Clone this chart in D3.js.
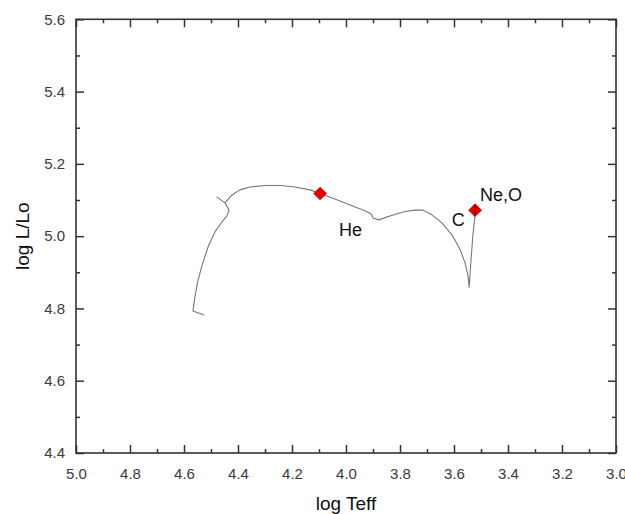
<!DOCTYPE html>
<html>
<head>
<meta charset="utf-8">
<script src="https://cdn.jsdelivr.net/npm/d3@7"></script>
<style>
  html, body { margin: 0; padding: 0; background: #fff; }
  svg { display: block; font-family: "Liberation Sans", Arial, sans-serif; }
</style>
</head>
<body>
<svg id="chart" width="625" height="514"></svg>
<script>
// Evolutionary track in the HR diagram: log Teff vs log L/Lo
const trackLogT = [4.526, 4.567, 4.560, 4.550, 4.533, 4.511, 4.485, 4.459, 4.441, 4.433,
  4.448, 4.478, 4.448, 4.422, 4.393, 4.356, 4.300, 4.244, 4.189, 4.133,
  4.096, 4.041, 3.985, 3.930, 3.907, 3.900, 3.878, 3.837, 3.782, 3.744,
  3.715, 3.682, 3.644, 3.607, 3.578, 3.559, 3.548, 3.544, 3.537, 3.530,
  3.522, 3.520];
const trackLogL = [4.782, 4.793, 4.830, 4.872, 4.920, 4.970, 5.012, 5.040, 5.056, 5.072,
  5.092, 5.108, 5.092, 5.114, 5.128, 5.136, 5.140, 5.140, 5.136, 5.128,
  5.118, 5.103, 5.086, 5.070, 5.061, 5.050, 5.045, 5.056, 5.068, 5.072,
  5.072, 5.059, 5.036, 5.003, 4.964, 4.926, 4.890, 4.859, 4.934, 5.003,
  5.059, 5.086];

// Burning-stage markers
const markerLogT = [4.096, 3.522];
const markerLogL = [5.118, 5.072];

// Stage labels
const labelText = ["He", "C", "Ne,O"];
const labelLogT = [3.983, 3.584, 3.504];
const labelLogL = [5.017, 5.045, 5.114];
const labelAnchor = ["middle", "middle", "start"];

const xTicks = [5.0, 4.8, 4.6, 4.4, 4.2, 4.0, 3.8, 3.6, 3.4, 3.2, 3.0];
const yTicks = [4.4, 4.6, 4.8, 5.0, 5.2, 5.4, 5.6];
const xMinor = [4.9, 4.7, 4.5, 4.3, 4.1, 3.9, 3.7, 3.5, 3.3, 3.1];
const yMinor = [4.5, 4.7, 4.9, 5.1, 5.3, 5.5];

const svg = d3.select("#chart");
const margin = { left: 76, top: 19.3, right: 9, bottom: 61 };
const W = 625, H = 514;
const iw = W - margin.left - margin.right;
const ih = H - margin.top - margin.bottom;

const x = d3.scaleLinear().domain([5.0, 3.0]).range([0, iw]);
const y = d3.scaleLinear().domain([4.4, 5.6]).range([ih, 0]);

const g = svg.append("g").attr("transform", `translate(${margin.left},${margin.top})`);

const axisColor = "#333";
const fmt = d3.format(".1f");

function styleAxis(sel, showLabels) {
  sel.select(".domain").remove();
  sel.selectAll(".tick line").attr("stroke", axisColor).attr("stroke-width", 1.5);
  sel.selectAll(".tick text")
    .attr("fill", "#3a3a3a")
    .style("font-size", "15px");
  if (!showLabels) sel.selectAll(".tick text").remove();
}

// Bottom axis (major + minor, inward ticks)
g.append("g").attr("transform", `translate(0,${ih})`)
  .call(d3.axisBottom(x).tickValues(xTicks).tickFormat(fmt).tickSizeInner(-8).tickPadding(15))
  .call(s => styleAxis(s, true));
g.append("g").attr("transform", `translate(0,${ih})`)
  .call(d3.axisBottom(x).tickValues(xMinor).tickSizeInner(-4))
  .call(s => styleAxis(s, false));

// Top axis
g.append("g")
  .call(d3.axisTop(x).tickValues(xTicks).tickSizeInner(-8))
  .call(s => styleAxis(s, false));
g.append("g")
  .call(d3.axisTop(x).tickValues(xMinor).tickSizeInner(-4))
  .call(s => styleAxis(s, false));

// Left axis
g.append("g")
  .call(d3.axisLeft(y).tickValues(yTicks).tickFormat(fmt).tickSizeInner(-8).tickPadding(11))
  .call(s => styleAxis(s, true));
g.append("g")
  .call(d3.axisLeft(y).tickValues(yMinor).tickSizeInner(-4))
  .call(s => styleAxis(s, false));

// Right axis
g.append("g").attr("transform", `translate(${iw},0)`)
  .call(d3.axisRight(y).tickValues(yTicks).tickSizeInner(-8))
  .call(s => styleAxis(s, false));
g.append("g").attr("transform", `translate(${iw},0)`)
  .call(d3.axisRight(y).tickValues(yMinor).tickSizeInner(-4))
  .call(s => styleAxis(s, false));

// Frame
g.append("rect")
  .attr("x", 0).attr("y", 0).attr("width", iw).attr("height", ih)
  .attr("fill", "none").attr("stroke", axisColor).attr("stroke-width", 1.6);

// Track
const track = trackLogT.map((t, i) => [t, trackLogL[i]]);
g.append("path")
  .datum(track)
  .attr("fill", "none")
  .attr("stroke", "#777")
  .attr("stroke-width", 1.1)
  .attr("stroke-linejoin", "round")
  .attr("d", d3.line().x(d => x(d[0])).y(d => y(d[1])));

// Markers
const diamond = d3.symbol().type(d3.symbolDiamond2).size(120);
g.selectAll(".marker")
  .data(markerLogT.map((t, i) => [t, markerLogL[i]]))
  .join("path")
  .attr("class", "marker")
  .attr("transform", d => `translate(${x(d[0])},${y(d[1])})`)
  .attr("d", diamond)
  .attr("fill", "#e00000");

// End of the track drawn over the last marker
g.append("path")
  .datum(track.slice(-2))
  .attr("fill", "none")
  .attr("stroke", "#500")
  .attr("stroke-width", 1.2)
  .attr("d", d3.line().x(d => x(d[0])).y(d => y(d[1])));

// Stage labels
g.selectAll(".stage")
  .data(labelText)
  .join("text")
  .attr("class", "stage")
  .attr("x", (d, i) => x(labelLogT[i]))
  .attr("y", (d, i) => y(labelLogL[i]))
  .attr("text-anchor", (d, i) => labelAnchor[i])
  .attr("dominant-baseline", "central")
  .attr("fill", "#111")
  .style("font-size", "18px")
  .text(d => d);

// Axis titles
svg.append("text")
  .attr("x", margin.left + iw / 2)
  .attr("y", 510)
  .attr("text-anchor", "middle")
  .attr("fill", "#111")
  .style("font-size", "19px")
  .text("log Teff");

svg.append("text")
  .attr("transform", `translate(29,${margin.top + ih / 2}) rotate(-90)`)
  .attr("text-anchor", "middle")
  .attr("fill", "#111")
  .style("font-size", "19px")
  .text("log L/Lo");
</script>
</body>
</html>
